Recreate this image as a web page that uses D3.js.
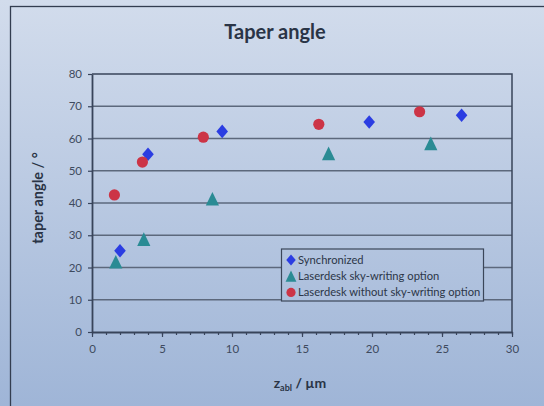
<!DOCTYPE html>
<html>
<head>
<meta charset="utf-8">
<script src="https://cdn.jsdelivr.net/npm/d3@7"></script>
<style>
  body { margin: 0; padding: 0; overflow: hidden; }
  svg { display: block; font-family: Lato, "Open Sans", sans-serif; }
</style>
</head>
<body>
<script>
//values
var seriesNames = ["Synchronized", "Laserdesk sky-writing option", "Laserdesk without sky-writing option"];
var syncX = [2.0, 4.0, 9.3, 19.8, 26.4];
var syncY = [25.2, 55.1, 62.2, 65.1, 67.2];
var skyX = [1.7, 3.7, 8.6, 16.9, 24.2];
var skyY = [21.8, 28.8, 41.3, 55.4, 58.5];
var noSkyX = [1.6, 3.6, 7.95, 16.2, 23.4];
var noSkyY = [42.5, 52.7, 60.4, 64.4, 68.3];
var xTicks = [0, 5, 10, 15, 20, 25, 30];
var yTicks = [0, 10, 20, 30, 40, 50, 60, 70, 80];

(function(){

var width = 544, height = 406;
var inkColor = "#38445a";

var svg = d3.select("body").append("svg")
	.attr("width", width)
	.attr("height", height);

//background gradient, reused by the legend box
var defs = svg.append("defs");
var grad = defs.append("linearGradient")
	.attr("id", "bg")
	.attr("gradientUnits", "userSpaceOnUse")
	.attr("x1", 0).attr("y1", 0)
	.attr("x2", 0).attr("y2", height);
grad.append("stop").attr("offset", "0%").attr("stop-color", "#d2dcec");
grad.append("stop").attr("offset", "100%").attr("stop-color", "#9fb5d7");

svg.append("rect")
	.attr("width", width)
	.attr("height", height)
	.attr("fill", "url(#bg)");

//outer chart border (runs off the right and bottom edge)
svg.append("rect")
	.attr("x", 10.5)
	.attr("y", 6.5)
	.attr("width", 700)
	.attr("height", 600)
	.attr("fill", "none")
	.attr("stroke", "#333d50")
	.attr("stroke-width", 1.3);

var x = d3.scaleLinear().domain([0, 30]).range([92, 512]);
var y = d3.scaleLinear().domain([0, 80]).range([332, 74]);

//gridlines
svg.append("g")
	.selectAll("line")
	.data(yTicks.slice(1, -1))
	.enter()
	.append("line")
	.attr("x1", x(0)).attr("x2", x(30))
	.attr("y1", function(d){ return y(d); })
	.attr("y2", function(d){ return y(d); })
	.attr("stroke", "#5c687c")
	.attr("stroke-width", 1.5);

//plot area top and right border
svg.append("path")
	.attr("d", "M" + x(0) + "," + y(80) + "H" + x(30) + "V" + y(0))
	.attr("fill", "none")
	.attr("stroke", inkColor)
	.attr("stroke-width", 1.5);

//minor x ticks
svg.append("g")
	.attr("transform", "translate(0," + y(0) + ")")
	.call(d3.axisBottom(x).tickValues(d3.range(0, 31, 1)).tickSize(3).tickFormat(""))
	.call(function(g){ g.select(".domain").remove(); })
	.selectAll("line").attr("stroke", inkColor).attr("stroke-width", 1.2);

//x axis
var xAxis = svg.append("g")
	.attr("transform", "translate(0," + y(0) + ")")
	.call(d3.axisBottom(x).tickValues(xTicks).tickSize(5).tickSizeOuter(0).tickPadding(8));

//y axis
var yAxis = svg.append("g")
	.attr("transform", "translate(" + x(0) + ",0)")
	.call(d3.axisLeft(y).tickValues(yTicks).tickSize(4).tickSizeOuter(0).tickPadding(6));

[xAxis, yAxis].forEach(function(g){
	g.select(".domain").attr("stroke", inkColor).attr("stroke-width", 1.8);
	g.selectAll(".tick line").attr("stroke", inkColor).attr("stroke-width", 1.2);
	g.selectAll(".tick text")
		.attr("fill", "#3e4a5e")
		.style("font-family", "Lato, sans-serif")
		.style("font-size", "11.5px");
});

//marker shapes
var diamond = "M0,-6.8L5.8,0L0,6.8L-5.8,0Z";
var triangle = "M0,-6.8L6.6,6.8L-6.6,6.8Z";
var circle = d3.symbol().type(d3.symbolCircle).size(Math.PI * 5.6 * 5.6)();
var markers = [
	{xs: syncX, ys: syncY, path: diamond, color: "#2b3de2"},
	{xs: skyX, ys: skyY, path: triangle, color: "#2a8b94"},
	{xs: noSkyX, ys: noSkyY, path: circle, color: "#cc3446"}
];

markers.forEach(function(m){
	svg.append("g")
		.selectAll("path")
		.data(m.xs)
		.enter()
		.append("path")
		.attr("d", m.path)
		.attr("transform", function(d, i){
			return "translate(" + x(d) + "," + y(m.ys[i]) + ")";
		})
		.attr("fill", m.color);
});

//legend box, filled with the same user-space gradient so it blends in
svg.append("rect")
	.attr("x", 281.5).attr("y", 249)
	.attr("width", 202).attr("height", 52)
	.attr("fill", "url(#bg)")
	.attr("stroke", "#3b4659")
	.attr("stroke-width", 1.2);

var legend = svg.append("g").attr("transform", "translate(282,249)");

var rows = legend.selectAll(".row")
	.data(seriesNames)
	.enter()
	.append("g")
	.attr("class", "row")
	.attr("transform", function(d, i){ return "translate(9," + (11 + i * 16.2) + ")"; });

rows.append("path")
	.attr("d", function(d, i){ return markers[i].path; })
	.attr("transform", "scale(0.82)")
	.attr("fill", function(d, i){ return markers[i].color; });

rows.append("text")
	.attr("x", 7)
	.attr("y", 4)
	.attr("fill", "#2c3648")
	.style("font-size", "11.2px")
	.text(function(d){ return d; });

//title
svg.append("text")
	.attr("x", 275)
	.attr("y", 39)
	.attr("text-anchor", "middle")
	.attr("fill", "#2a3446")
	.style("font-size", "20px")
	.style("font-weight", "bold")
	.text("Taper angle");

//y axis title
svg.append("text")
	.attr("transform", "translate(43,198) rotate(-90)")
	.attr("text-anchor", "middle")
	.attr("fill", "#2a3446")
	.style("font-size", "14.5px")
	.style("font-weight", "bold")
	.text("taper angle / \u00b0");

//x axis title with subscript
var xTitle = svg.append("text")
	.attr("x", 300)
	.attr("y", 388)
	.attr("text-anchor", "middle")
	.attr("fill", "#2a3446")
	.style("font-size", "14px")
	.style("font-weight", "bold");
xTitle.append("tspan").text("z");
xTitle.append("tspan").attr("dy", 3).style("font-size", "9px").text("abl");
xTitle.append("tspan").attr("dy", -3).text(" / \u00b5m");

})();
</script>
</body>
</html>
